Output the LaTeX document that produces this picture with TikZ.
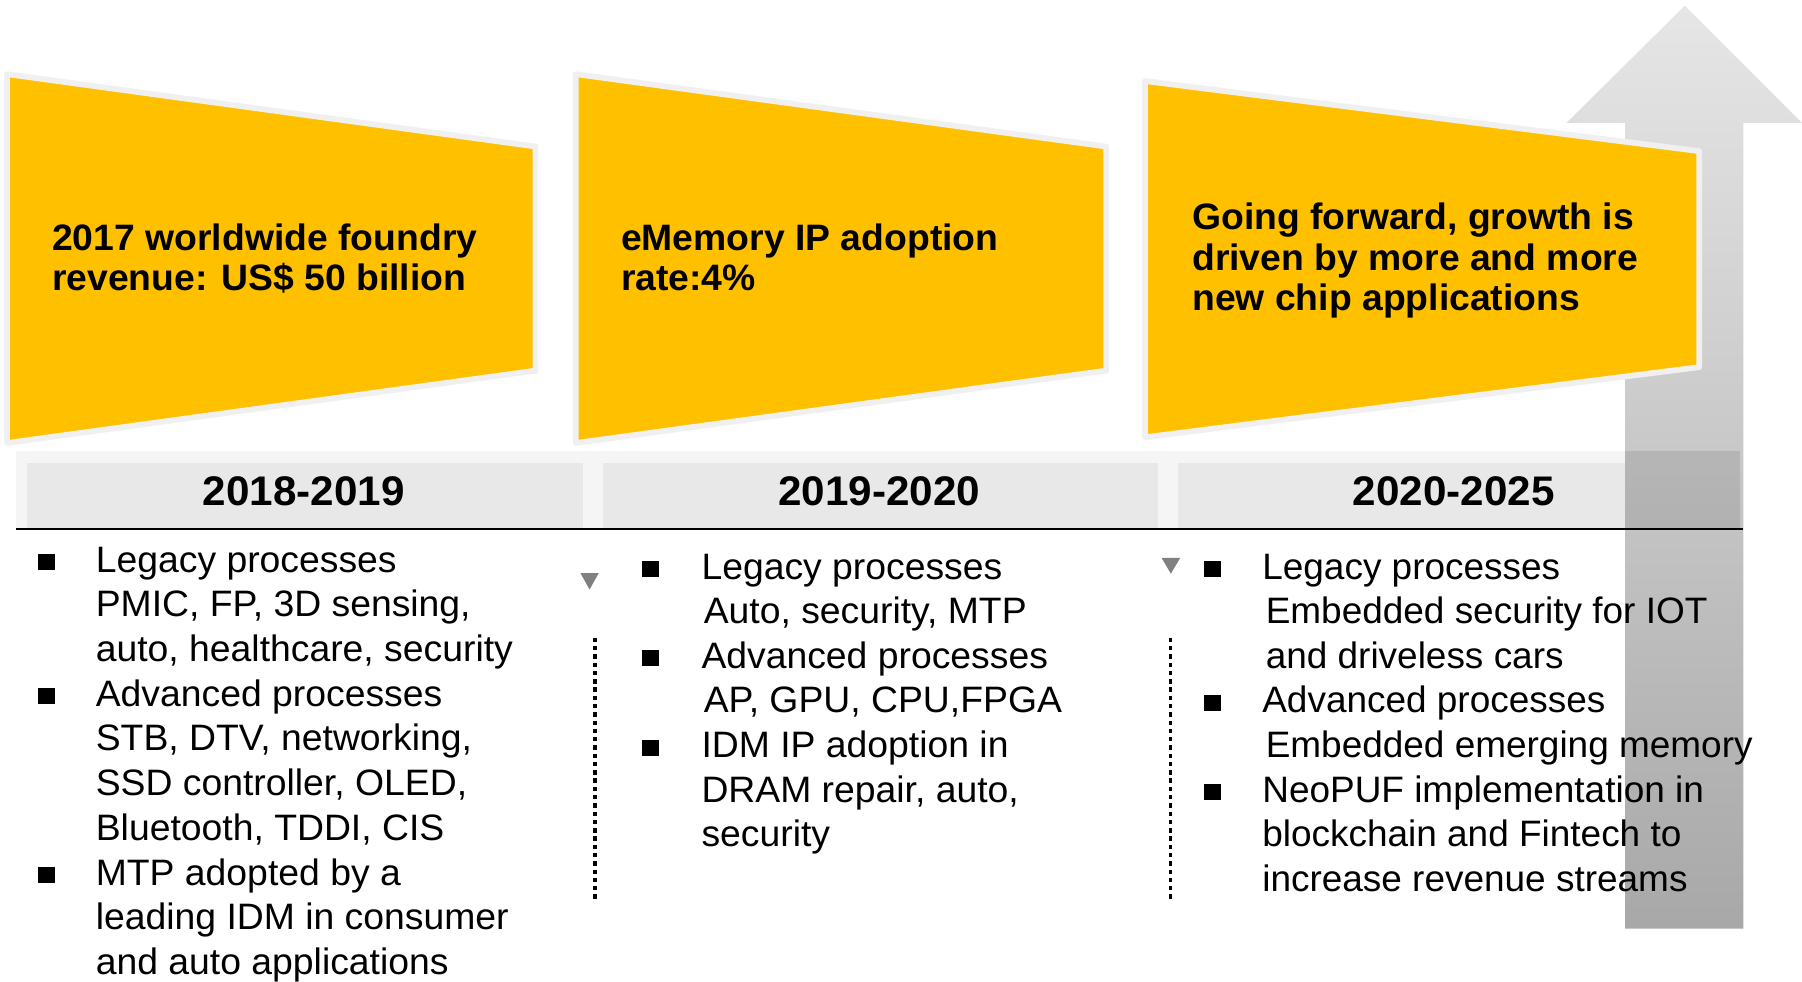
\documentclass[tikz,border=0pt]{standalone}
\usepackage{fontspec}
\setmainfont{Liberation Sans}
\newfontfamily\widesans{Liberation Sans}[FakeStretch=1.015]
\newfontfamily\hdrsans{Liberation Sans}[FakeStretch=1.02]
\newfontfamily\narrowsans{Liberation Sans}[FakeStretch=1.005]
\definecolor{yel}{HTML}{FFC000}
\definecolor{bord}{HTML}{F0F0F0}
\definecolor{hdr}{HTML}{E8E8E8}
\definecolor{hdrlight}{HTML}{F5F5F5}
\definecolor{trigray}{HTML}{808080}
\definecolor{arrtop}{HTML}{E6E6E6}
\definecolor{arrbot}{HTML}{A8A8A8}
\begin{document}
\begin{tikzpicture}[x=0.5pt,y=-0.5pt,
  trap/.style={fill=yel, draw=bord, line width=2.5pt, line join=round},
  ttl/.style={anchor=base west, inner sep=0pt, font=\widesans\fontsize{16}{18}\selectfont\bfseries},
  body/.style={anchor=base west, inner sep=0pt, font=\widesans\fontsize{16}{19}\selectfont},
  bodyn/.style={anchor=base west, inner sep=0pt, font=\narrowsans\fontsize{16}{19}\selectfont},
  yr/.style={anchor=base, inner sep=0pt, font=\hdrsans\fontsize{18}{20}\selectfont\bfseries},
  sq/.style={fill=black, draw=none, minimum size=7pt, inner sep=0pt},
  hdrout/.style={fill=hdrlight, draw=none},
  hdrin/.style={fill=hdr, draw=none},
  dotline/.style={line width=1.6pt, dash pattern=on 1.9pt off 1.7pt},
  tri/.style={fill=trigray, draw=none}]
\useasboundingbox (0,0) rectangle (1568,854);

% header boxes
\fill[hdrout] (13.9,392.5) rectangle (514.8,460);
\fill[hdrin] (23.2,402.5) rectangle (507,460);
\fill[hdrout] (514.8,392.5) rectangle (1015.5,460);
\fill[hdrin] (524.4,402.5) rectangle (1008,460);
\fill[hdrout] (1015.5,392.5) rectangle (1514,460);
\fill[hdrin] (1025,402.5) rectangle (1506,460);

% growth arrow
\shade[top color=arrtop, bottom color=arrbot]
  (1414,808) -- (1414,107) -- (1363,107) -- (1466,5) -- (1568,107) -- (1517,107) -- (1517,808) -- cycle;
\fill[black, opacity=0.09] (1414,392.5) rectangle (1514,460);

% header baseline
\draw[line width=0.9pt] (13.9,460.5) -- (1517,460.5);

% trapezoids
\draw[trap] (6,64.5) -- (466,127.5) -- (466,322.5) -- (6,385.5) -- cycle;
\draw[trap] (501,64.5) -- (962.5,127.5) -- (962.5,322.5) -- (501,385.5) -- cycle;
\draw[trap] (996.2,70.5) -- (1478.5,131.5) -- (1478.5,319.5) -- (996.2,380.5) -- cycle;

% trapezoid texts
\node[ttl] (t1a) at (45,218) {2017 worldwide foundry};
\node[ttl] (t1b) at (45,253) {revenue: US\$ 50 billion};
\node[ttl] (t2a) at (540,218) {eMemory IP adoption};
\node[ttl] (t2b) at (540,253) {rate:4\%};
\node[ttl] (t3a) at (1037,200) {Going forward, growth is};
\node[ttl] (t3b) at (1037,235) {driven by more and more};
\node[ttl] (t3c) at (1037,270) {new chip applications};

% year headers
\node[yr] (y1) at (264.4,440) {2018-2019};
\node[yr] (y2) at (765,440) {2019-2020};
\node[yr] (y3) at (1265,440) {2020-2025};

% markers and dotted lines
\fill[tri] (505,498.6) -- (521,498.6) -- (513,513) -- cycle;
\fill[tri] (1010.7,485.4) -- (1027,485.4) -- (1018.8,499.2) -- cycle;
\draw[dotline] (517.5,555) -- (517.5,782.6);
\draw[dotline] (1018.5,555) -- (1018.5,782.6);

% column 1
\node[sq] (b1a) at (40.5,489.3) {};
\node[sq] (b1b) at (40.5,606) {};
\node[sq] (b1c) at (40.5,761.6) {};
\node[body] (c1l1) at (83,497.8) {Legacy processes};
\node[body] (c1l2) at (83,536.7) {PMIC, FP, 3D sensing,};
\node[body] (c1l3) at (83,575.6) {auto, healthcare, security};
\node[body] (c1l4) at (83,614.5) {Advanced processes};
\node[body] (c1l5) at (83,653.4) {STB, DTV, networking,};
\node[body] (c1l6) at (83,692.3) {SSD controller, OLED,};
\node[body] (c1l7) at (83,731.2) {Bluetooth, TDDI, CIS};
\node[body] (c1l8) at (83,770.1) {MTP adopted by a};
\node[body] (c1l9) at (83,809) {leading IDM in consumer};
\node[body] (c1l10) at (83,847.9) {and auto applications};

% column 2
\node[sq] (b2a) at (566,495.3) {};
\node[sq] (b2b) at (566,572.9) {};
\node[sq] (b2c) at (566,650.5) {};
\node[body] (c2l1) at (610,504) {Legacy processes};
\node[body] (c2l2) at (612,542.8) {Auto, security, MTP};
\node[body] (c2l3) at (610,581.6) {Advanced processes};
\node[body] (c2l4) at (612,620.4) {AP, GPU, CPU,FPGA};
\node[body] (c2l5) at (610,659.2) {IDM IP adoption in};
\node[body] (c2l6) at (610,698) {DRAM repair, auto,};
\node[body] (c2l7) at (610,736.8) {security};

% column 3
\node[sq] (b3a) at (1055,495.3) {};
\node[sq] (b3b) at (1055,611.7) {};
\node[sq] (b3c) at (1055,689.3) {};
\node[bodyn] (c3l1) at (1098,504) {Legacy processes};
\node[bodyn] (c3l2) at (1101,542.8) {Embedded security for IOT};
\node[bodyn] (c3l3) at (1101,581.6) {and driveless cars};
\node[bodyn] (c3l4) at (1098,620.4) {Advanced processes};
\node[bodyn] (c3l5) at (1101,659.2) {Embedded emerging memory};
\node[bodyn] (c3l6) at (1098,698) {NeoPUF implementation in};
\node[bodyn] (c3l7) at (1098,736.8) {blockchain and Fintech to};
\node[bodyn] (c3l8) at (1098,775.6) {increase revenue streams};
\end{tikzpicture}
\end{document}
